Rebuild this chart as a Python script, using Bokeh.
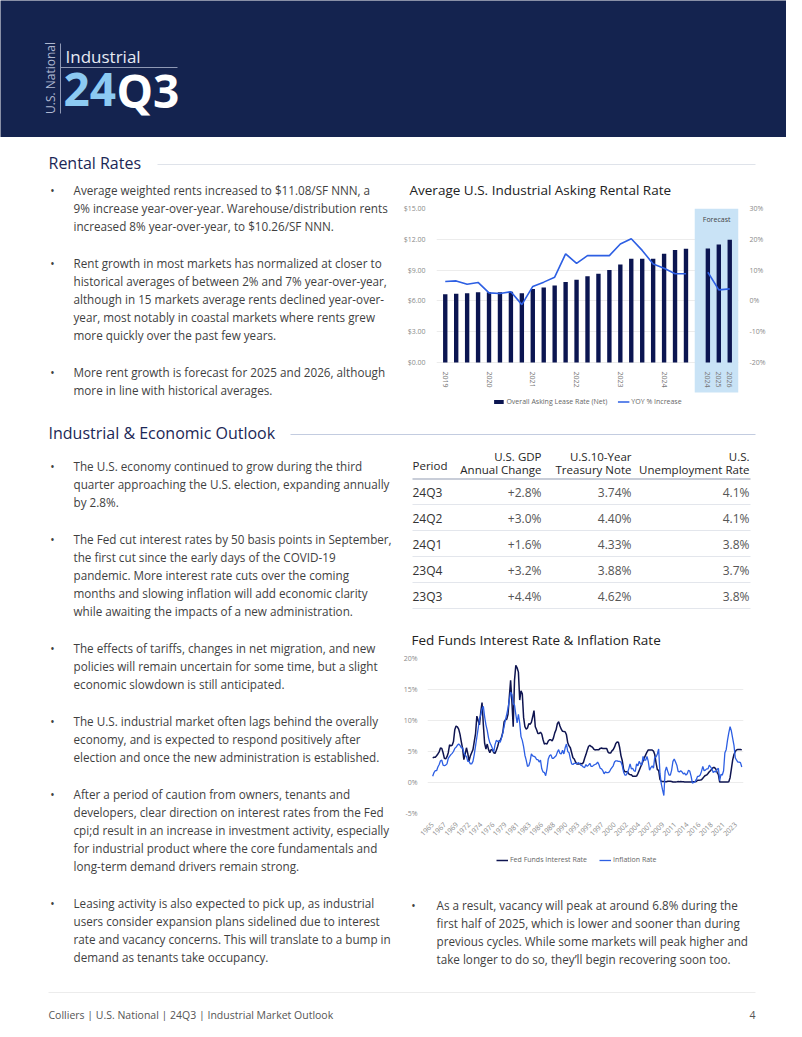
import math
from bokeh.plotting import figure
from bokeh.models import (Range1d, LinearAxis, FixedTicker, NumeralTickFormatter,
                          PrintfTickFormatter, Legend, LegendItem)
from bokeh.layouts import row, column
from bokeh.core.properties import value
from bokeh.embed import file_html
from bokeh.resources import INLINE

# ---------------------------------------------------------------- data
rent_quarters = ["2019Q1", "2019Q2", "2019Q3", "2019Q4", "2020Q1", "2020Q2", "2020Q3", "2020Q4",
                 "2021Q1", "2021Q2", "2021Q3", "2021Q4", "2022Q1", "2022Q2", "2022Q3", "2022Q4",
                 "2023Q1", "2023Q2", "2023Q3", "2023Q4", "2024Q1", "2024Q2", "2024Q3"]
rent_hist = [6.65, 6.70, 6.75, 6.85, 6.85, 6.85, 6.90, 6.75, 7.15, 7.30, 7.50, 7.85,
             8.05, 8.40, 8.65, 9.00, 9.55, 10.10, 10.10, 10.10, 10.60, 10.95, 11.08]
yoy_hist = [6.3, 6.5, 5.4, 6.0, 2.6, 2.4, 3.0, -1.2, 4.7, 6.1, 7.7, 15.3,
            12.2, 14.7, 14.7, 14.7, 18.5, 20.2, 16.4, 12.0, 10.6, 8.8, 8.8]
forecast_years = ["2024", "2025", "2026"]
rent_forecast = [11.10, 11.50, 11.95]
yoy_forecast = [9.3, 3.6, 3.9]
rent_ticks_usd = [0, 3, 6, 9, 12, 15]
rent_ticks_pct = [-20, -10, 0, 10, 20, 30]

periods = ["24Q3", "24Q2", "24Q1", "23Q4", "23Q3"]
gdp_change = [2.8, 3.0, 1.6, 3.2, 4.4]
treasury_10y = [3.74, 4.40, 4.33, 3.88, 4.62]
unemployment = [4.1, 4.1, 3.8, 3.7, 3.8]

# quarterly, 1965Q1 .. 2024Q3
fed_funds = [
    3.98, 4.07, 4.07, 4.32, 4.60, 4.95, 5.58, 5.50, 4.80, 3.90, 3.80, 4.17,
    4.80, 6.07, 5.90, 6.02, 6.60, 8.50, 9.10, 8.98, 8.60, 7.80, 6.60, 5.50,
    3.70, 4.60, 5.60, 4.70, 3.50, 4.30, 4.80, 5.30, 6.60, 7.90, 10.70, 10.00,
    9.30, 11.30, 12.90, 9.30, 6.30, 5.40, 6.20, 5.30, 4.80, 5.30, 5.30, 4.80,
    4.70, 5.20, 5.80, 6.60, 6.80, 7.30, 8.10, 9.80, 10.10, 10.20, 11.00, 13.80,
    16.50, 13.00, 9.00, 16.50, 18.90, 18.50, 17.80, 13.30, 14.80, 14.30, 10.50, 9.00,
    8.60, 8.80, 9.50, 9.40, 9.70, 10.60, 11.60, 9.00, 8.50, 7.90, 7.90, 8.10,
    7.80, 6.90, 6.20, 6.30, 6.20, 6.70, 6.90, 6.90, 6.70, 7.20, 8.00, 8.50,
    9.50, 9.80, 9.10, 8.60, 8.25, 8.24, 8.16, 7.70, 6.40, 5.90, 5.60, 4.80,
    4.00, 3.80, 3.30, 3.00, 3.00, 3.00, 3.06, 3.00, 3.20, 3.90, 4.50, 5.20,
    5.80, 6.00, 5.80, 5.70, 5.40, 5.25, 5.30, 5.30, 5.30, 5.50, 5.55, 5.50,
    5.50, 5.50, 5.50, 4.90, 4.75, 4.75, 5.10, 5.30, 5.70, 6.30, 6.52, 6.50,
    5.60, 4.30, 3.50, 2.10, 1.73, 1.75, 1.74, 1.40, 1.25, 1.25, 1.02, 1.00,
    1.00, 1.03, 1.43, 1.95, 2.47, 2.94, 3.46, 3.98, 4.46, 4.91, 5.25, 5.25,
    5.26, 5.25, 5.07, 4.50, 3.18, 2.09, 1.94, 0.51, 0.18, 0.18, 0.16, 0.12,
    0.13, 0.19, 0.19, 0.19, 0.16, 0.09, 0.08, 0.07, 0.10, 0.15, 0.14, 0.16,
    0.14, 0.12, 0.08, 0.09, 0.07, 0.09, 0.09, 0.10, 0.11, 0.12, 0.13, 0.16,
    0.36, 0.37, 0.40, 0.45, 0.70, 0.95, 1.15, 1.20, 1.45, 1.74, 1.92, 2.22,
    2.40, 2.40, 2.19, 1.64, 1.26, 0.06, 0.09, 0.09, 0.08, 0.07, 0.09, 0.08,
    0.12, 0.77, 2.19, 3.65, 4.52, 4.99, 5.26, 5.33, 5.33, 5.33, 5.26]
inflation = [
    1.0, 1.6, 1.9, 1.9, 2.5, 2.9, 3.5, 3.6, 2.8, 2.7, 2.8, 3.0,
    3.9, 4.2, 4.5, 4.7, 5.0, 5.5, 5.7, 6.0, 6.2, 6.0, 5.6, 5.6,
    4.8, 4.4, 4.2, 3.4, 3.4, 3.0, 3.0, 3.4, 4.5, 5.9, 7.3, 8.7,
    10.2, 10.9, 11.9, 12.3, 10.6, 9.3, 8.4, 7.2, 6.4, 6.0, 5.5, 4.9,
    6.1, 6.8, 6.6, 6.7, 6.5, 7.2, 8.0, 9.0, 10.1, 11.0, 12.0, 13.3,
    14.6, 14.2, 12.7, 12.5, 11.0, 9.6, 11.0, 9.6, 7.4, 6.8, 5.8, 4.4,
    3.6, 2.6, 2.7, 3.4, 4.6, 4.3, 4.2, 4.1, 3.7, 3.7, 3.3, 3.6,
    2.2, 1.7, 1.6, 1.1, 2.2, 3.8, 4.3, 4.5, 3.9, 3.9, 4.1, 4.3,
    4.9, 5.3, 4.7, 4.6, 5.2, 4.6, 5.6, 6.2, 5.0, 4.8, 3.8, 3.0,
    2.9, 3.1, 3.1, 3.0, 3.2, 3.1, 2.8, 2.7, 2.5, 2.4, 2.9, 2.6,
    2.8, 3.1, 2.6, 2.6, 2.8, 2.9, 3.0, 3.3, 2.9, 2.3, 2.2, 1.9,
    1.4, 1.7, 1.6, 1.6, 1.7, 2.1, 2.4, 2.7, 3.3, 3.5, 3.5, 3.4,
    3.4, 3.3, 2.7, 1.7, 1.2, 1.2, 1.6, 2.2, 3.0, 2.2, 2.3, 1.9,
    1.8, 3.0, 2.7, 3.4, 3.0, 2.8, 4.2, 3.6, 3.6, 4.2, 3.4, 2.0,
    2.4, 2.7, 2.3, 4.1, 4.1, 4.6, 5.4, 1.5, -0.2, -1.2, -2.1, 1.8,
    2.5, 1.8, 1.2, 1.2, 2.0, 3.4, 3.8, 3.3, 2.8, 1.8, 1.7, 1.9,
    1.7, 1.4, 1.5, 1.2, 1.4, 2.0, 1.8, 1.0, -0.1, 0.0, 0.1, 0.5,
    1.0, 1.0, 1.2, 1.8, 2.6, 1.9, 2.0, 2.2, 2.2, 2.8, 2.5, 2.2,
    1.6, 1.8, 1.7, 2.1, 2.3, 0.3, 1.3, 1.2, 1.9, 4.8, 5.3, 6.8,
    8.0, 9.0, 8.3, 7.1, 6.0, 4.0, 3.6, 3.3, 3.3, 3.2, 2.5]
fed_tick_labels = ["1965", "1967", "1969", "1972", "1974", "1976", "1979", "1981", "1983",
                   "1986", "1988", "1990", "1993", "1995", "1997", "2000", "2002", "2004",
                   "2007", "2009", "2011", "2014", "2016", "2018", "2021", "2023"]
fed_ticks_pct = [-5, 0, 5, 10, 15, 20]

# ---------------------------------------------------------------- text content
rental_bullets = [
    ["Average weighted rents increased to $11.08/SF NNN, a",
     "9% increase year-over-year. Warehouse/distribution rents",
     "increased 8% year-over-year, to $10.26/SF NNN."],
    ["Rent growth in most markets has normalized at closer to",
     "historical averages of between 2% and 7% year-over-year,",
     "although in 15 markets average rents declined year-over-",
     "year, most notably in coastal markets where rents grew",
     "more quickly over the past few years."],
    ["More rent growth is forecast for 2025 and 2026, although",
     "more in line with historical averages."],
]
outlook_bullets = [
    ["The U.S. economy continued to grow during the third",
     "quarter approaching the U.S. election, expanding annually",
     "by 2.8%."],
    ["The Fed cut interest rates by 50 basis points in September,",
     "the first cut since the early days of the COVID-19",
     "pandemic. More interest rate cuts over the coming",
     "months and slowing inflation will add economic clarity",
     "while awaiting the impacts of a new administration."],
    ["The effects of tariffs, changes in net migration, and new",
     "policies will remain uncertain for some time, but a slight",
     "economic slowdown is still anticipated."],
    ["The U.S. industrial market often lags behind the overally",
     "economy, and is expected to respond positively after",
     "election and once the new administration is established."],
    ["After a period of caution from owners, tenants and",
     "developers, clear direction on interest rates from the Fed",
     "cpi;d result in an increase in investment activity, especially",
     "for industrial product where the core fundamentals and",
     "long-term demand drivers remain strong."],
    ["Leasing activity is also expected to pick up, as industrial",
     "users consider expansion plans sidelined due to interest",
     "rate and vacancy concerns. This will translate to a bump in",
     "demand as tenants take occupancy."],
]
right_bullet = ["As a result, vacancy will peak at around 6.8% during the",
                "first half of 2025, which is lower and sooner than during",
                "previous cycles. While some markets will peak higher and",
                "take longer to do so, they\u2019ll begin recovering soon too."]

# ---------------------------------------------------------------- styles
FONT = "Open Sans"
NAVY_BG = "#14234f"
HEAD = "#1b2756"
BODY = "#3f3f3f"
BAR = "#0b1551"
BLUE = "#2d5fe3"
FED = "#0e1450"
AXIS_TXT = "#8a8a8a"
BODY_SIZE = "11.7px"
W = 786
XM = 400


def canvas(x0, y0, x1, y1, bg="white"):
    p = figure(width=x1 - x0, height=y1 - y0, x_range=Range1d(x0, x1),
               y_range=Range1d(-y1, -y0), output_backend="svg", toolbar_location=None,
               min_border=0, x_axis_location=None, y_axis_location=None)
    p.frame_align = False
    p.grid.visible = False
    p.outline_line_color = None
    p.background_fill_color = bg
    p.border_fill_color = bg
    return p


def txt(p, x, y, s, size=BODY_SIZE, color=BODY, align="left", baseline="middle",
        style="normal", angle=0.0, font=FONT):
    p.text(x=[x], y=[-y], text=[s], text_font=value(font), text_font_size=size,
           text_color=color, text_align=align, text_baseline=baseline,
           text_font_style=style, angle=angle)


def hline(p, x0, x1, y, color, width=1):
    p.segment(x0=[x0], y0=[-y], x1=[x1], y1=[-y], line_color=color, line_width=width)


def bullets(p, paras, x_dot, x_text, y0, lh=18.0, gap=37.0):
    y = y0
    for para in paras:
        txt(p, x_dot, y, "\u2022", align="center")
        for i, line in enumerate(para):
            txt(p, x_text, y + i * lh, line)
        y += (len(para) - 1) * lh + gap


def style_axis(ax, standoff):
    ax.axis_line_color = None
    ax.major_tick_line_color = None
    ax.minor_tick_line_color = None
    ax.major_label_standoff = standoff
    ax.major_label_text_font = FONT
    ax.major_label_text_font_size = "7px"
    ax.major_label_text_color = AXIS_TXT


# ---------------------------------------------------------------- header
hdr = canvas(0, 0, W, 137, bg=NAVY_BG)
txt(hdr, 50, 77.5, "U.S. National", size="12px", color="#aeb7d0", align="center",
    angle=math.pi / 2)
hdr.segment(x0=[60], y0=[-43], x1=[60], y1=[-113], line_color="#8f99b5", line_width=1)
txt(hdr, 65, 56, "Industrial", size="17px", color="#e6eaf3")
hline(hdr, 60, 177, 67, "#8f99b5")
txt(hdr, 63, 89, "24", size="46px", color="#8ccaf2", style="bold")
txt(hdr, 116, 89, "Q3", size="46px", color="white", style="bold")

# ---------------------------------------------------------------- section heading 1
h1 = canvas(0, 137, W, 178)
txt(h1, 48, 162, "Rental Rates", size="16px", color=HEAD)
hline(h1, 157, 755, 164, "#dfe3ea")

# ---------------------------------------------------------------- rental text
left1 = canvas(0, 178, XM, 410)
bullets(left1, rental_bullets, 52, 73, 189)

# ---------------------------------------------------------------- rental chart
t1 = canvas(XM, 178, W, 200)
txt(t1, 409, 189, "Average U.S. Industrial Asking Rental Rate", size="13.5px", color="#222222")

n_hist = len(rent_quarters)
n_fc = len(forecast_years)
bar_x = list(range(n_hist)) + [n_hist + 1 + i for i in range(n_fc)]
bar_top = rent_hist + rent_forecast
line_x = list(range(n_hist + 1 + n_fc))
line_y = yoy_hist + [float("nan")] + yoy_forecast

usd_lo = -4.67
pct_per_usd = (rent_ticks_pct[-1] - rent_ticks_pct[0]) / (rent_ticks_usd[-1] - rent_ticks_usd[0])
rp = figure(width=W - XM, height=210, x_range=Range1d(-0.8, n_hist + n_fc + 0.8),
            y_range=Range1d(usd_lo, rent_ticks_usd[-1]), output_backend="svg",
            toolbar_location=None, min_border_left=32, min_border_right=48,
            min_border_top=8, min_border_bottom=0)
rp.frame_align = False
rp.extra_y_ranges = {"pct": Range1d(rent_ticks_pct[0] + usd_lo * pct_per_usd, rent_ticks_pct[-1])}
rp.outline_line_color = None
rp.background_fill_color = "white"
rp.border_fill_color = "white"
rp.xgrid.visible = False
rp.ygrid.grid_line_color = "#ececec"

# forecast band
rp.quad(left=[n_hist - 0.2], right=[n_hist + n_fc + 0.8], bottom=[-2.92],
        top=[rent_ticks_usd[-1]], fill_color="#c9e3f6", line_color=None)
rp.text(x=[n_hist + 1.8], y=[13.9], text=["Forecast"], text_font=value(FONT),
        text_font_size="7px", text_color="#444444", text_align="center",
        text_baseline="middle")

bars = rp.vbar(x=bar_x, top=bar_top, width=0.4, fill_color=BAR, line_color=None)
yoy = rp.line(x=line_x, y=line_y, line_color=BLUE, line_width=1.6, y_range_name="pct")

tick_pos = [i for i, q in enumerate(rent_quarters) if q.endswith("Q1")] + \
           [n_hist + 1 + i for i in range(n_fc)]
tick_lab = {i: q[:4] for i, q in enumerate(rent_quarters) if q.endswith("Q1")}
tick_lab.update({n_hist + 1 + i: y for i, y in enumerate(forecast_years)})
xa = rp.xaxis[0]
xa.ticker = FixedTicker(ticks=tick_pos)
xa.major_label_overrides = tick_lab
xa.major_label_orientation = "vertical"
xa.fixed_location = 0
style_axis(xa, 3)
xa.major_label_text_color = "#777777"

ya = rp.yaxis[0]
ya.ticker = FixedTicker(ticks=rent_ticks_usd)
ya.formatter = NumeralTickFormatter(format="$0.00")
ra = LinearAxis(y_range_name="pct", ticker=FixedTicker(ticks=rent_ticks_pct),
                formatter=PrintfTickFormatter(format="%d%%"))
rp.add_layout(ra, "right")
style_axis(ya, 5)
style_axis(ra, 5)

leg1 = Legend(items=[LegendItem(label="Overall Asking Lease Rate (Net)", renderers=[bars]),
                     LegendItem(label="YOY % Increase", renderers=[yoy])],
              location="bottom_center", orientation="horizontal",
              background_fill_alpha=0, border_line_color=None,
              label_text_font=FONT, label_text_font_size="7px", label_text_color="#666666",
              glyph_width=12, glyph_height=5, label_standoff=2, spacing=10,
              margin=4, padding=4, label_height=8)
rp.add_layout(leg1, "center")

# ---------------------------------------------------------------- section heading 2
h2 = canvas(0, 410, W, 445)
txt(h2, 48, 432, "Industrial & Economic Outlook", size="16px", color=HEAD)
hline(h2, 290, 755, 434, "#c3cce0")

# ---------------------------------------------------------------- outlook text
left2 = canvas(0, 445, XM, 975)
bullets(left2, outlook_bullets, 52, 73, 465)

# ---------------------------------------------------------------- table
tb = canvas(XM, 445, W, 625)
col_right = [541, 631, 749]
txt(tb, 412, 465, "Period", size="11.5px", color="#262626")
heads = [("U.S. GDP", "Annual Change"), ("U.S.10-Year", "Treasury Note"),
         ("U.S.", "Unemployment Rate")]
for xr, (a, b) in zip(col_right, heads):
    txt(tb, xr, 456, a, size="11.5px", color="#262626", align="right")
    txt(tb, xr, 468.5, b, size="11.5px", color="#262626", align="right")
hline(tb, 412, 750, 478.5, "#c8cdd8", width=2)
row_y = [491.5 + 26 * i for i in range(len(periods))]
tb.text(x=[412] * len(periods), y=[-v for v in row_y], text=periods, text_font=value(FONT),
        text_font_size="12px", text_color="#333333", text_baseline="middle")
cols = [["+%.1f%%" % v for v in gdp_change], ["%.2f%%" % v for v in treasury_10y],
        ["%.1f%%" % v for v in unemployment]]
for xr, vals in zip(col_right, cols):
    tb.text(x=[xr] * len(vals), y=[-v for v in row_y], text=vals, text_font=value(FONT),
            text_font_size="12px", text_color="#555555", text_align="right",
            text_baseline="middle")
for yy in row_y:
    hline(tb, 412, 750, yy + 12.5, "#e3e6ec")

# ---------------------------------------------------------------- fed chart
t2 = canvas(XM, 625, W, 650)
txt(t2, 411, 639, "Fed Funds Interest Rate & Inflation Rate", size="13.5px", color="#222222")

fx_fed = [3 * i for i in range(len(fed_funds))]
fx_inf = [3 * i for i in range(len(inflation))]
fp = figure(width=W - XM, height=195, x_range=Range1d(-12, 718),
            y_range=Range1d(fed_ticks_pct[0], fed_ticks_pct[-1]), output_backend="svg",
            toolbar_location=None, min_border_left=27, min_border_right=43,
            min_border_top=8, min_border_bottom=32)
fp.frame_align = False
fp.outline_line_color = None
fp.background_fill_color = "white"
fp.border_fill_color = "white"
fp.xgrid.visible = False
fp.ygrid.grid_line_color = "#ececec"
fp.line(x=fx_fed, y=fed_funds, line_color=FED, line_width=1.5)
fp.line(x=fx_inf, y=inflation, line_color=BLUE, line_width=1.3)

fxa = fp.xaxis[0]
fxa.ticker = FixedTicker(ticks=[28 * i for i in range(len(fed_tick_labels))])
fxa.major_label_overrides = {28 * i: s for i, s in enumerate(fed_tick_labels)}
fxa.major_label_orientation = math.pi / 4
fya = fp.yaxis[0]
fya.ticker = FixedTicker(ticks=fed_ticks_pct)
fya.formatter = PrintfTickFormatter(format="%d%%")
style_axis(fxa, 4)
style_axis(fya, 4)

# legend strip under the fed chart (swatch renderers sit outside the visible range)
lg = canvas(XM, 845, W, 878)
sw_fed = lg.line(x=[XM, XM + 1], y=[-2000, -2000], line_color=FED, line_width=1.5)
sw_inf = lg.line(x=[XM, XM + 1], y=[-2000, -2000], line_color=BLUE, line_width=1.3)
leg2 = Legend(items=[LegendItem(label="Fed Funds Interest Rate", renderers=[sw_fed]),
                     LegendItem(label="Inflation Rate", renderers=[sw_inf])],
              location=(96, 14), orientation="horizontal",
              background_fill_alpha=0, border_line_color=None,
              label_text_font=FONT, label_text_font_size="7px", label_text_color="#666666",
              glyph_width=12, glyph_height=6, label_standoff=2, spacing=12,
              margin=0, padding=4, label_height=8)
lg.add_layout(leg2, "center")

# ---------------------------------------------------------------- right text
rt = canvas(XM, 878, W, 975)
bullets(rt, [right_bullet], 413, 436, 904, lh=18.3)

# ---------------------------------------------------------------- footer
ft = canvas(0, 975, W, 1021)
hline(ft, 48, 755, 992, "#ececec")
txt(ft, 48, 1014, "Colliers | U.S. National | 24Q3 | Industrial Market Outlook",
    size="10.5px", color="#555555")
txt(ft, 755, 1014, "4", size="10.5px", color="#555555", align="right")

right_c = column(t1, rp)
right_e = column(tb, t2, fp, lg, rt)
layout = column(
    hdr,
    h1,
    row(left1, right_c),
    h2,
    row(left2, right_e),
    ft,
)

open("out.html", "w").write(file_html(layout, INLINE))
